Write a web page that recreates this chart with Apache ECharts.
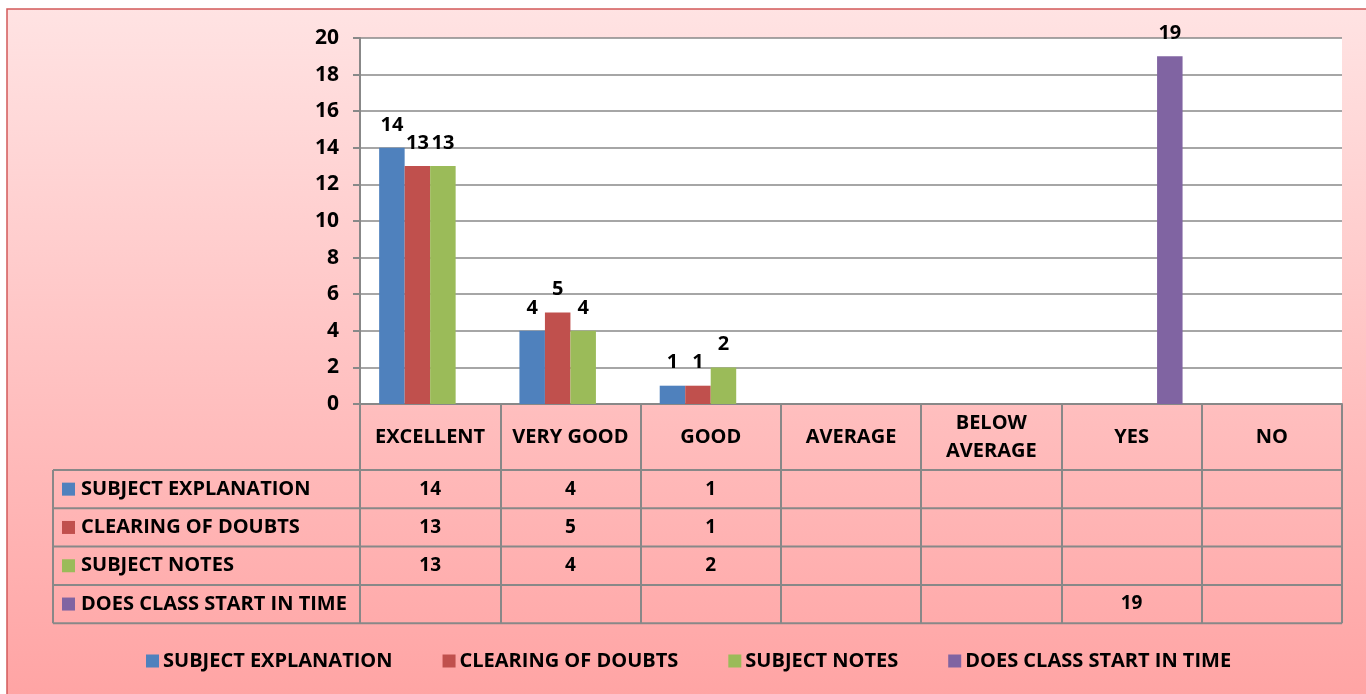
<!DOCTYPE html>
<html><head><meta charset="utf-8">
<script src="https://cdn.jsdelivr.net/npm/echarts@6/dist/echarts.min.js"></script>
<style>html,body{margin:0;padding:0;background:#fff}#c{width:1366px;height:694px}</style>
</head><body><div id="c"></div>
<script>
var categories = ['EXCELLENT','VERY GOOD','GOOD','AVERAGE','BELOW\nAVERAGE','YES','NO'];
var seriesNames = ['SUBJECT EXPLANATION','CLEARING OF DOUBTS','SUBJECT NOTES','DOES CLASS START IN TIME'];
var subjectExplanation = [14,4,1,null,null,null,null];
var clearingOfDoubts = [13,5,1,null,null,null,null];
var subjectNotes = [13,4,2,null,null,null,null];
var classStartInTime = [null,null,null,null,null,19,null];
var yTicks = {min:0,max:20,interval:2};
var colors = ['#4F81BD','#C0504D','#9BBB59','#8064A2'];

var allData = [subjectExplanation, clearingOfDoubts, subjectNotes, classStartInTime];
var FONT = 'Open Sans';
var FS = 20;
var chart = echarts.init(document.getElementById('c'));
var gridLeft = 360, gridRight = 24, gridTop = 38, gridBottom = 290;
var headerH = 66, rowH = 38.3, tableLeft = 53;

var series = allData.map(function(d,i){
  return {
    name: seriesNames[i], type:'bar', data:d, barWidth:25.5, barGap:'0%',
    itemStyle:{color:colors[i]},
    label:{show:true, position:'top', distance:13, color:'#000', fontFamily:FONT, fontWeight:'bold', fontSize:20}
  };
});

chart.setOption({
  animation:false,
  textStyle:{fontFamily:FONT},
  grid:{left:gridLeft,right:gridRight,top:gridTop,bottom:gridBottom,show:true,backgroundColor:'#ffffff',borderWidth:0},
  legend:{
    data:seriesNames, top:651, left:146, padding:0, itemWidth:13, itemHeight:13, itemGap:50, icon:'rect',
    textStyle:{fontFamily:FONT,fontWeight:'bold',fontSize:FS,color:'#000',padding:[0,0,0,-1]}
  },
  xAxis:{
    type:'category', data:categories,
    axisLine:{show:true,lineStyle:{color:'#888888',width:2}},
    axisTick:{show:true,length:headerH+4*rowH,lineStyle:{color:'#888888',width:2}},
    axisLabel:{color:'#000',fontFamily:FONT,fontWeight:'bold',fontSize:FS,lineHeight:28,margin:headerH/2,verticalAlign:'middle',interval:0}
  },
  yAxis:{
    type:'value', min:yTicks.min, max:yTicks.max, interval:yTicks.interval,
    axisLine:{show:true,lineStyle:{color:'#888888',width:2}},
    axisTick:{show:true,length:7,lineStyle:{color:'#888888',width:2}},
    splitLine:{lineStyle:{color:'#888888',width:1.6}},
    axisLabel:{color:'#000',fontFamily:FONT,fontWeight:'bold',fontSize:21,margin:21}
  },
  series:series
});

function buildTable(){
  var y0 = chart.convertToPixel({yAxisIndex:0}, 0);
  var c0 = chart.convertToPixel({xAxisIndex:0}, 0);
  var c1 = chart.convertToPixel({xAxisIndex:0}, 1);
  var band = c1 - c0;
  var xRight = chart.convertToPixel({xAxisIndex:0}, categories.length-1) + band/2;
  var els = [];
  els.push({type:'rect', z:-10, silent:true, shape:{x:7,y:9,width:1400,height:720},
    style:{fill:new echarts.graphic.LinearGradient(0,0,0,1,[{offset:0,color:'#FFE3E3'},{offset:1,color:'#FFA1A1'}]),stroke:'#D25A5A',lineWidth:1.5}});
  var rowsTop = y0 + headerH;
  for (var r=0;r<=seriesNames.length;r++){
    var yy = rowsTop + r*rowH;
    els.push({type:'line', z:5, shape:{x1:tableLeft,y1:yy,x2:xRight,y2:yy}, style:{stroke:'#888888',lineWidth:2}});
  }
  els.push({type:'line', z:5, shape:{x1:tableLeft,y1:rowsTop,x2:tableLeft,y2:rowsTop+seriesNames.length*rowH}, style:{stroke:'#888888',lineWidth:2}});
  for (var s=0;s<seriesNames.length;s++){
    var cy = rowsTop + s*rowH + rowH/2;
    els.push({type:'rect', z:6, shape:{x:62,y:cy-6.5,width:13,height:13}, style:{fill:colors[s]}});
    els.push({type:'text', z:6, x:81, y:cy, style:{text:seriesNames[s], font:'bold '+FS+'px '+FONT, fill:'#000', verticalAlign:'middle', align:'left'}});
    for (var k=0;k<categories.length;k++){
      var v = allData[s][k];
      if (v===null) continue;
      var cx = chart.convertToPixel({xAxisIndex:0}, k);
      els.push({type:'text', z:6, x:cx, y:cy, style:{text:String(v), font:'bold 19px '+FONT, fill:'#000', verticalAlign:'middle', align:'center'}});
    }
  }
  chart.setOption({graphic:els});
}
buildTable();
</script></body></html>
